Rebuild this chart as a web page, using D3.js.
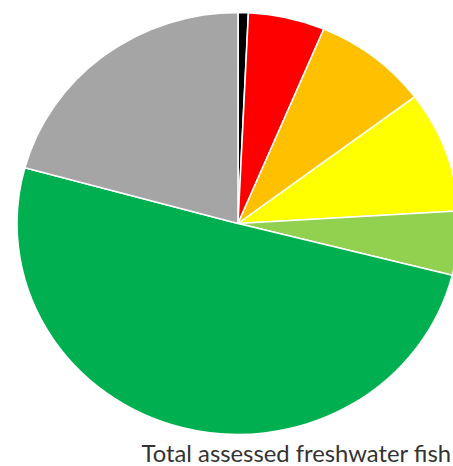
<!DOCTYPE html>
<html>
<head>
<meta charset="utf-8">
<script src="https://cdn.jsdelivr.net/npm/d3@7"></script>
<style>
  html, body { margin: 0; padding: 0; background: #fff; }
  svg { display: block; }
</style>
</head>
<body>
<div id="chart"></div>
<script>
// categories and shares (%), clockwise from 12 o'clock
var categories = ["Extinct", "Critically Endangered", "Endangered", "Vulnerable",
                  "Near Threatened", "Least Concern", "Data Deficient"];
var shares = [0.75, 5.6, 8.4, 9.3, 4.9, 50.3, 20.75];
var colours = ["#000000", "#FF0000", "#FFC000", "#FFFF00", "#92D050", "#00B050", "#A5A5A5"];
var caption = "Total assessed freshwater fish";

var width = 453, height = 466;
var cx = 238, cy = 223.5, ry = 211, rx = 221;

var svg = d3.select("#chart").append("svg")
    .attr("width", width)
    .attr("height", height);

var slices = categories.map(function(c, i) {
    return { name: c, value: shares[i], colour: colours[i] };
});

var pie = d3.pie()
    .sort(null)
    .value(function(d) { return d.value; });

var arc = d3.arc()
    .innerRadius(0)
    .outerRadius(ry);

// the source picture is a little wider than tall, so stretch the pie
var g = svg.append("g")
    .attr("transform", "translate(" + cx + "," + cy + ") scale(" + (rx / ry) + ",1)");

g.selectAll("path")
    .data(pie(slices))
    .enter()
    .append("path")
    .attr("d", arc)
    .style("fill", function(d) { return d.data.colour; })
    .style("stroke", "#ffffff")
    .style("stroke-width", 1.5)
    .style("stroke-linejoin", "round");

svg.append("text")
    .attr("x", 451)
    .attr("y", 462)
    .attr("text-anchor", "end")
    .style("font-family", "Lato, sans-serif")
    .style("font-size", "23.8px")
    .style("fill", "#333333")
    .text(caption);
</script>
</body>
</html>
